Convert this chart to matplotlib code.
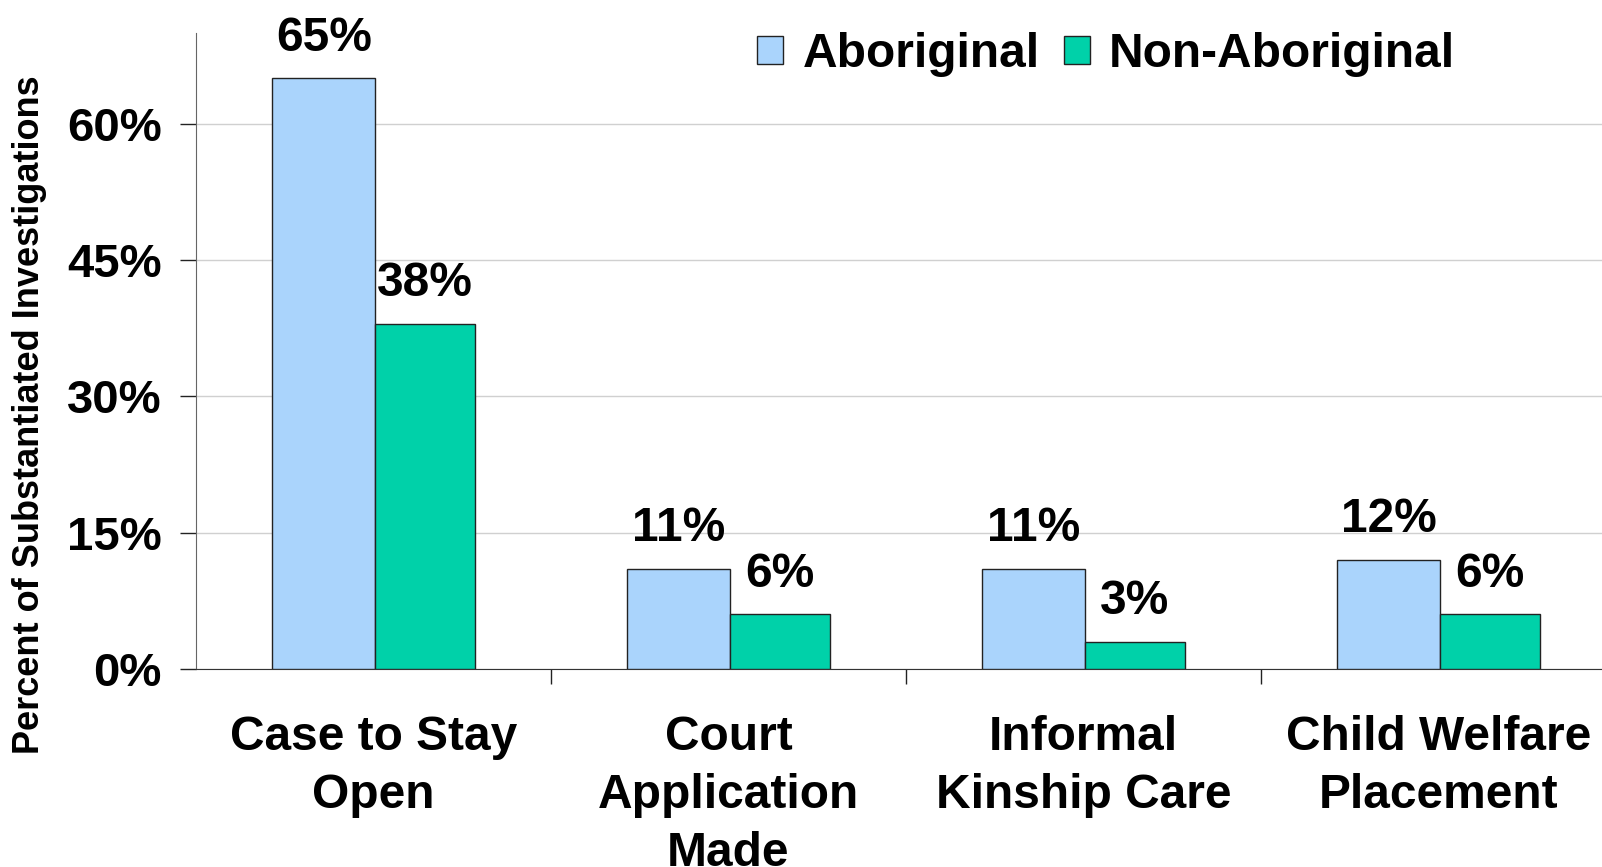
import matplotlib
matplotlib.use('Agg')
import matplotlib.pyplot as plt
import numpy as np

plt.rcParams['font.family'] = ['Liberation Sans', 'DejaVu Sans']
plt.rcParams['font.weight'] = 'bold'

categories = ['Case to Stay\nOpen', 'Court\nApplication\nMade', 'Informal\nKinship Care',
              'Child Welfare\nPlacement']
aboriginal = [65, 11, 11, 12]
non_aboriginal = [38, 6, 3, 6]
series_names = ['Aboriginal', 'Non-Aboriginal']
yticks = [0, 15, 30, 45, 60]

blue = '#AAD4FC'
green = '#00D1A9'

W, H = 1602, 867
fig = plt.figure(figsize=(W / 100, H / 100), dpi=100)
ax = fig.add_axes([196 / W, 1 - 669 / H, 1420 / W, 636 / H])

x = np.arange(len(categories))
b1 = ax.bar(x - 0.14, aboriginal, width=0.29, color=blue, edgecolor='#222222',
            linewidth=1.0, label=series_names[0], zorder=3)
b2 = ax.bar(x + 0.145, non_aboriginal, width=0.28, color=green, edgecolor='#222222',
            linewidth=1.0, label=series_names[1], zorder=3)

# value labels above each bar
for bars, vals in [(b1, aboriginal), (b2, non_aboriginal)]:
    for rect, v in zip(bars, vals):
        ax.annotate(f'{v}%', (rect.get_x() + rect.get_width() / 2, v),
                    xytext=(0, 29), textcoords='offset points',
                    ha='center', va='center', fontsize=34.5, fontweight='bold',
                    annotation_clip=False)

ax.set_xlim(-0.5, 3.5)
ax.set_ylim(0, 70)
ax.set_yticks(yticks)
ax.set_yticklabels([f'{t}%' for t in yticks])
ax.tick_params(axis='y', length=11.5, width=1, color='#222222', pad=13, labelsize=34)

ax.set_xticks(x)
ax.set_xticklabels(categories, fontsize=34.5, fontweight='bold', linespacing=1.38)
ax.tick_params(axis='x', which='major', length=0, pad=33)
ax.set_xticks([0.5, 1.5, 2.5], minor=True)
ax.tick_params(axis='x', which='minor', length=11, width=1, color='#222222')

ax.grid(axis='y', color='#d0d0d0', linewidth=1, zorder=0)
for s in ['top', 'right']:
    ax.spines[s].set_visible(False)
ax.spines['left'].set_color('#666666')
ax.spines['bottom'].set_color('#333333')

fig.text(30 / W, 1 - 415 / H, 'Percent of Substantiated Investigations', rotation=90,
         ha='center', va='center', fontsize=26, fontweight='bold')

fig.legend(handles=[b1, b2], labels=series_names, loc='upper left',
           bbox_to_anchor=(757 / W, 1 - 32 / H), ncol=2, frameon=False,
           handlelength=0.55, handleheight=0.55, handletextpad=0.4,
           columnspacing=0.5, borderpad=0, borderaxespad=0,
           prop={'weight': 'bold', 'size': 34.5})

fig.savefig('out.png', dpi=100)
